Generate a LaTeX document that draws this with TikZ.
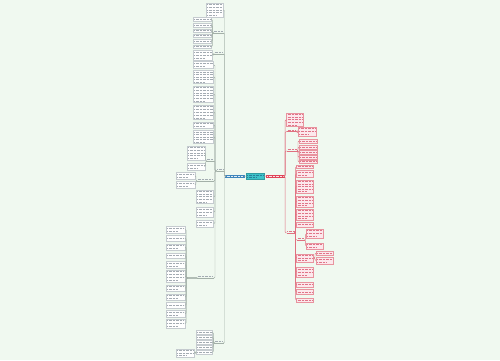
\documentclass[tikz,border=0pt]{standalone}
\usetikzlibrary{calc}
\definecolor{bg}{HTML}{F0F9F0}
\definecolor{lgray}{HTML}{C5CBCF}
\definecolor{tgray}{HTML}{A3ABB2}
\definecolor{lnl}{HTML}{A3B0A8}
\definecolor{rfill}{HTML}{FCE8EC}
\definecolor{rbord}{HTML}{E8949F}
\definecolor{rtxt}{HTML}{E07488}
\definecolor{lnr}{HTML}{E0707F}
\definecolor{ctr}{HTML}{3DC3C9}
\definecolor{ctrtxt}{HTML}{2A7E9A}
\definecolor{rootblue}{HTML}{3F86BC}
\definecolor{rootred}{HTML}{E04458}
\tikzset{
 boxL/.style={draw=lgray, fill=white, line width=0.35pt, inner sep=0pt, outer sep=0pt},
 boxR/.style={draw=rbord, fill=rfill, line width=0.35pt, inner sep=0pt, outer sep=0pt},
 boxB/.style={draw=rootblue, fill=rootblue, line width=0.35pt, inner sep=0pt, outer sep=0pt},
 boxC/.style={draw=ctr!80!black, fill=ctr, line width=0.35pt, inner sep=0pt, outer sep=0pt},
 boxD/.style={draw=rootred, fill=rootred, line width=0.35pt, inner sep=0pt, outer sep=0pt},
 txtL/.style={draw=tgray, line width=0.6pt, dash pattern=on 1pt off 0.4pt},
 txtR/.style={draw=rtxt, line width=0.6pt, dash pattern=on 1pt off 0.4pt},
 txtB/.style={draw=white!85!rootblue, line width=0.6pt, dash pattern=on 1pt off 0.4pt},
 txtC/.style={draw=ctrtxt, line width=0.6pt, dash pattern=on 1pt off 0.4pt},
 txtD/.style={draw=white!85!rootred, line width=0.6pt, dash pattern=on 1pt off 0.4pt},
 lnL/.style={draw=lnl, line width=0.45pt, rounded corners=1pt},
 lnR/.style={draw=lnr, line width=0.45pt, rounded corners=1pt},
 lab/.style={inner sep=0pt, outer sep=0pt, minimum height=0pt},
}
\newcommand{\mmbox}[6]{%
 \pgfmathsetmacro{\mmcx}{(#2+#4)/2}%
 \pgfmathsetmacro{\mmcy}{(#3+#5)/2}%
 \pgfmathsetmacro{\mmw}{#4-#2}%
 \pgfmathsetmacro{\mmh}{#5-#3}%
 \node[box#6, minimum width=\mmw pt, minimum height=\mmh pt] (#1) at (\mmcx,\mmcy) {};%
 \pgfmathtruncatemacro{\mmn}{max(1,floor((\mmh-0.8)/2.4))}%
 \foreach \k in {1,...,\mmn}{%
   \pgfmathsetmacro{\mmy}{#3+0.3+(\k-0.5)*(\mmh-0.6)/\mmn}%
   \pgfmathsetmacro{\mmxe}{(\k==\mmn && \mmn>1) ? (#2+1.1+0.6*(\mmw-2.2)) : (#4-1.1)}%
   \draw[txt#6] (#2+1.1,\mmy) -- (\mmxe,\mmy);}%
}
\newcommand{\mmlab}[5]{%
 \pgfmathsetmacro{\mmcx}{(#2+#3)/2}%
 \pgfmathsetmacro{\mmw}{#3-#2}%
 \node[lab, minimum width=\mmw pt] (#1) at (\mmcx,#4) {};%
 \draw[ln#5] (#2,#4) -- (#3,#4);%
 \draw[txt#5] (#2+0.6,#4-1.4) -- (#3-0.6,#4-1.4);%
}
\newcommand{\mmL}[3]{\draw[lnL] (#1.west) -- (#1.west -| #2) -- (#2 |- #3.east) -- (#3.east);}
\newcommand{\mmR}[3]{\draw[lnR] (#1.east) -- (#1.east -| #2) -- (#2 |- #3.west) -- (#3.west);}
\begin{document}
\begin{tikzpicture}[x=1pt,y=-1pt]
\fill[bg] (0,0) rectangle (500,360);
\useasboundingbox (0,0) rectangle (500,360);
% bus coordinates
\coordinate (sp) at (224.5,0);
\coordinate (bL1) at (212.3,0);
\coordinate (bL2) at (213.3,0);
\coordinate (bL3) at (215,0);
\coordinate (bS1) at (205.6,0);
\coordinate (bS2) at (196,0);
\coordinate (bL4) at (186.2,0);
\coordinate (bL5) at (213.4,0);
\coordinate (bL5e) at (195.2,0);
\coordinate (sr) at (285.2,0);
\coordinate (bR1) at (297.2,0);
\coordinate (bR2) at (298,0);
\coordinate (bR3) at (295.6,0);
\coordinate (bR3S) at (305.6,0);
\coordinate (bR3g) at (315,0);
% roots
\mmbox{rl}{225.5}{174.8}{244}{177.6}{B}
\mmbox{ctrnode}{246}{173.3}{264}{179}{C}
\mmbox{rr}{266}{174.8}{284.3}{177.6}{D}
\draw[lnL] (ctrnode.west) -- (rl.east);
\draw[lnR] (ctrnode.east) -- (rr.west);
% ---------- left side ----------
\mmbox{t0}{206}{3}{223.5}{17}{L}
\mmlab{L1}{213}{223.5}{33}{L}
\mmlab{L2}{214}{223.5}{54}{L}
\mmlab{L3}{216.5}{223.8}{171}{L}
\mmlab{L5}{214}{223.5}{343}{L}
\foreach \c in {t0,L1,L2,L3,L5} {\mmL{rl}{sp}{\c}}
% L1 children
\foreach \n/\a/\b in {l1a/17.5/21,l1b/23.5/27,l1c/29/32.5,l1d/34/37.5,l1e/39.5/43.5,l1f/45/48.5}
  {\mmbox{\n}{193}{\a}{211.5}{\b}{L}}
\foreach \c in {l1a,l1b,l1c,l1d,l1e,l1f} {\mmL{L1}{bL1}{\c}}
% L2 child
\mmbox{l2a}{193}{50}{212.5}{60}{L}
\mmL{L2}{bL2}{l2a}
% L3 children
\foreach \n/\a/\b in {l3a/61.5/68.5,l3b/70.5/83.5,l3c/86/102.5,l3d/105/119.5,l3e/122/128.5,l3f/130.5/143.5}
  {\mmbox{\n}{193}{\a}{213.5}{\b}{L}}
\foreach \n/\a/\b in {l3g/190/203.5,l3h/207/217,l3i/220/227}
  {\mmbox{\n}{196}{\a}{213.5}{\b}{L}}
\mmlab{S1}{206}{214}{161}{L}
\mmlab{S2}{197}{213.5}{181}{L}
\mmlab{L4}{197}{213.5}{278}{L}
\foreach \c in {l3a,l3b,l3c,l3d,l3e,l3f,S1,S2,l3g,l3h,l3i,L4} {\mmL{L3}{bL3}{\c}}
% S1 children
\mmbox{s1a}{187}{146}{205}{160}{L}
\mmbox{s1b}{187}{163}{205}{170}{L}
\foreach \c in {s1a,s1b} {\mmL{S1}{bS1}{\c}}
% S2 children
\mmbox{s2a}{176}{172.5}{195}{179}{L}
\mmbox{s2b}{176}{181.5}{195}{188}{L}
\foreach \c in {s2a,s2b} {\mmL{S2}{bS2}{\c}}
% L4 children
\foreach \n/\a/\b in {l4a/226/233,l4b/235.5/241,l4c/244/250.5,l4d/253/258.5,l4e/261.5/268,l4f/270/282.5,l4g/285/291.5,l4h/294/300,l4i/302.5/308,l4j/310.5/317,l4k/319/328}
  {\mmbox{\n}{166}{\a}{185}{\b}{L}}
\foreach \c in {l4a,l4b,l4c,l4d,l4e,l4f,l4g,l4h,l4i,l4j,l4k} {\mmL{L4}{bL4}{\c}}
% L5 children
\foreach \n/\a/\b in {l5a/330.5/334,l5b/335.5/339,l5c/340.5/344,l5d/345.5/349,l5e/350.5/354}
  {\mmbox{\n}{196}{\a}{212.6}{\b}{L}}
\foreach \c in {l5a,l5b,l5c,l5d,l5e} {\mmL{L5}{bL5}{\c}}
\mmbox{l5f}{176}{349}{194}{357}{L}
\mmL{l5e}{bL5e}{l5f}
% ---------- right side ----------
\mmbox{r0}{286.5}{113}{303.5}{126.5}{R}
\mmlab{R1}{287}{296.5}{131.7}{R}
\mmlab{R2}{287}{297}{151}{R}
\mmlab{R3}{286.5}{295}{233}{R}
\foreach \c in {r0,R1,R2,R3} {\mmR{rr}{sr}{\c}}
% R1 child
\mmbox{r1a}{298}{127}{316}{136}{R}
\mmR{R1}{bR1}{r1a}
% R2 children
\foreach \n/\a/\b in {r2a/139/143,r2b/145.5/149,r2c/150.5/154,r2d/155.5/159,r2e/160/163.5}
  {\mmbox{\n}{299}{\a}{317}{\b}{R}}
\foreach \c in {r2a,r2b,r2c,r2d,r2e} {\mmR{R2}{bR2}{\c}}
% R3 children
\foreach \n/\a/\b in {r3a/165/168,r3b/170/177.5,r3c/180/193,r3d/196/207,r3e/209/220,r3f/222/227.5,r3g/254/262,r3h/267/277,r3i/282/287.5,r3j/289.5/294.5,r3k/298/302.5}
  {\mmbox{\n}{296.5}{\a}{313.5}{\b}{R}}
\mmlab{R3S}{297}{305}{240}{R}
\foreach \c in {r3a,r3b,r3c,r3d,r3e,r3f,R3S,r3g,r3h,r3i,r3j,r3k} {\mmR{R3}{bR3}{\c}}
% R3S children
\mmbox{rsa}{306}{229}{323}{238}{R}
\mmbox{rsb}{306}{243}{323}{249.5}{R}
\foreach \c in {rsa,rsb} {\mmR{R3S}{bR3S}{\c}}
% r3g children
\mmbox{rga}{316}{251.5}{333}{255}{R}
\mmbox{rgb}{316}{257}{333}{264}{R}
\foreach \c in {rga,rgb} {\mmR{r3g}{bR3g}{\c}}
\end{tikzpicture}
\end{document}
